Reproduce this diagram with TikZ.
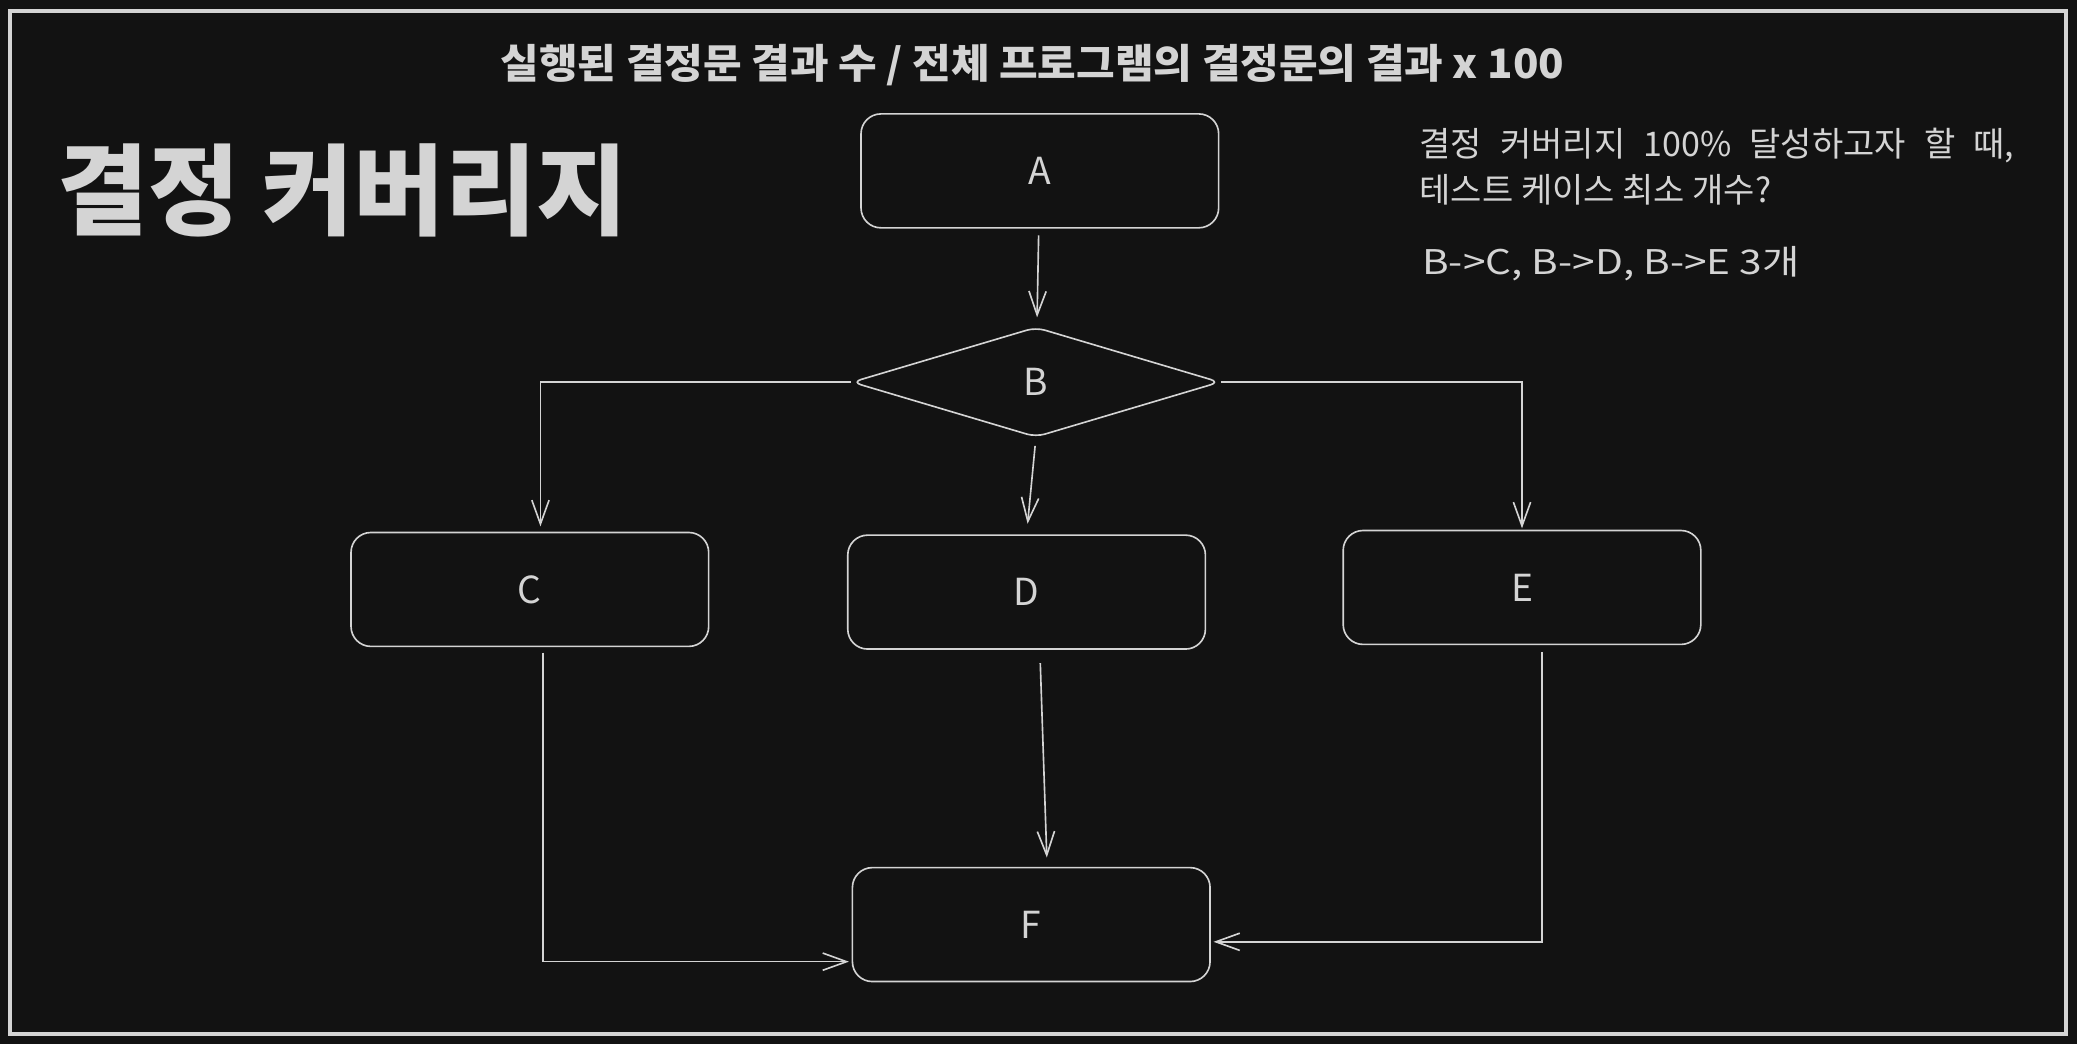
\documentclass[tikz,border=0pt]{standalone}
\usepackage{fontspec}
\setmainfont{Noto Sans CJK KR}
\usepackage{graphicx}
\usepackage{tikz}
\usetikzlibrary{shapes.geometric,arrows.meta}

\definecolor{bg}{HTML}{121212}
\definecolor{ink}{HTML}{D4D4D4}

\begin{document}
\begin{tikzpicture}[
  box/.style={draw=ink, line width=0.35pt, rectangle, rounded corners=0.15cm,
    minimum width=2.7cm, minimum height=0.86cm, text=ink, font=\fontsize{8}{9}\selectfont},
  decision/.style={draw=ink, line width=0.35pt, diamond, rounded corners=2pt, inner sep=0pt,
    minimum width=2.78cm, minimum height=0.83cm, text=ink, font=\fontsize{8}{9}\selectfont},
  arr/.style={draw=ink, line width=0.35pt, -{Straight Barb[length=1.8mm, width=1.3mm]}},
  txt/.style={text=ink, inner sep=0pt}
]
\useasboundingbox (0,0) rectangle (15.68,7.88);
\fill[bg] (0,0) rectangle (15.68,7.88);
\draw[ink, line width=0.85pt] (0.075,0.074) rectangle (15.595,7.797);

\node[txt, font=\fontsize{8.7}{10}\selectfont\bfseries](formula) at (7.795,7.39) {\resizebox{8.03cm}{\height}{실행된 결정문 결과 수 / 전체 프로그램의 결정문의 결과 x 100}};
\node[txt, font=\fontsize{21.3}{24}\selectfont\bfseries](heading) at (2.585,6.44) {결정 커버리지};
\node[txt, anchor=north west, align=left, font=\fontsize{7.3}{9.8}\selectfont](question) at (10.71,6.92) {\makebox[4.49cm][s]{결정 커버리지 100\% 달성하고자 할 때,}\\테스트 케이스 최소 개수?};
\node[txt, anchor=west, font=\fontsize{7.3}{9.8}\selectfont](answer) at (10.73,5.89) {\resizebox{2.85cm}{\height}{B->C, B->D, B->E 3개}};

\node[box](A) at (7.85,6.59) {A};
\node[decision](B) at (7.82,4.995) {B};
\node[box](C) at (4.00,3.43) {C};
\node[box](D) at (7.75,3.41) {D};
\node[box](E) at (11.49,3.445) {E};
\node[box](F) at (7.785,0.90) {F};

\draw[arr, shorten <=0.05cm, shorten >=0.07cm](A) to (B);
\draw[arr, shorten >=0.04cm](B.west) -| ([xshift=0.08cm]C.north);
\draw[arr, shorten <=0.06cm, shorten >=0.08cm](B.south) to (D.north);
\draw[arr, shorten >=0.01cm](B.east) -| (E.north);

\draw[arr, shorten <=0.04cm, shorten >=0.02cm]([xshift=0.1cm]C.south) |- ([yshift=-0.28cm]F.west);
\draw[arr, shorten <=0.1cm, shorten >=0.07cm]([xshift=0.1cm]D.south) to ([xshift=0.12cm]F.north);
\draw[arr, shorten <=0.05cm, shorten >=0.02cm]([xshift=0.15cm]E.south) |- ([yshift=-0.13cm]F.east);

\end{tikzpicture}
\end{document}
